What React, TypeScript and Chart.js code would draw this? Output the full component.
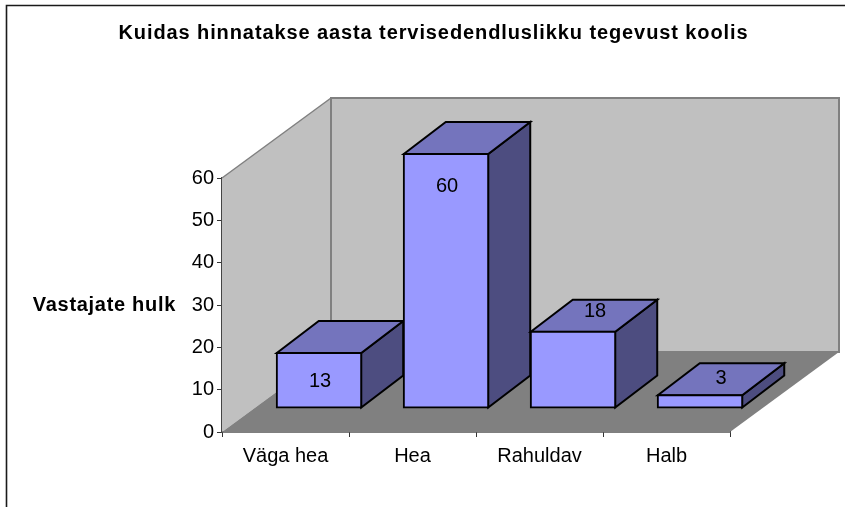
import React, { useEffect, useRef } from "react";
import { Chart, registerables } from "chart.js";

Chart.register(...registerables);

const categories = ["Väga hea", "Hea", "Rahuldav", "Halb"];
const values = [13, 60, 18, 3];
const chartTitle = "Kuidas hinnatakse aasta tervisedendluslikku tegevust koolis";
const yAxisTitle = "Vastajate hulk";

const FONT = "'Liberation Sans', Arial, sans-serif";
// 3D projection of the plot box
const FLOOR_DX = 109;
const FLOOR_DY = -80;
const BAR_SHIFT_X = 33.5;
const BAR_SHIFT_Y = -24;
const BAR_DX = 42;
const BAR_DY = -32;
const LABEL_SHIFT = [
  [1, 28.5],
  [1, 32.5],
  [22, -20.5],
  [21, -16.5],
];

const poly = (ctx: CanvasRenderingContext2D, pts: number[][], fill: string, stroke: string, lw: number) => {
  ctx.beginPath();
  pts.forEach((p, i) => (i ? ctx.lineTo(p[0], p[1]) : ctx.moveTo(p[0], p[1])));
  ctx.closePath();
  ctx.fillStyle = fill;
  ctx.fill();
  if (lw > 0) {
    ctx.strokeStyle = stroke;
    ctx.lineWidth = lw;
    ctx.lineJoin = "miter";
    ctx.stroke();
  }
};

const scene3d = {
  id: "scene3d",
  afterLayout(chart: any) {
    const block = chart.titleBlock;
    if (block && !block.__spaced) {
      block.__spaced = true;
      const draw = block.draw;
      block.draw = function (...args: any[]) {
        const c = this.ctx;
        c.save();
        c.letterSpacing = "0.9px";
        draw.apply(this, args);
        c.restore();
      };
    }
  },
  beforeDraw(chart: any) {
    const ctx = chart.ctx;
    ctx.save();
    ctx.strokeStyle = "#1a1a1a";
    ctx.lineWidth = 1.6;
    ctx.beginPath();
    ctx.moveTo(6.5, 520);
    ctx.lineTo(6.5, 5.5);
    ctx.lineTo(860, 5.5);
    ctx.stroke();
    ctx.restore();
  },
  beforeDatasetsDraw(chart: any) {
    const ctx = chart.ctx;
    const { left, right, top, bottom } = chart.chartArea;
    ctx.save();
    const dx = FLOOR_DX;
    const dy = FLOOR_DY;
    // side wall
    poly(ctx, [[left, bottom], [left, top], [left + dx, top + dy], [left + dx, bottom + dy]], "#c0c0c0", "#808080", 0);
    // back wall
    poly(ctx, [[left + dx, top + dy], [right + dx, top + dy], [right + dx, bottom + dy], [left + dx, bottom + dy]], "#c0c0c0", "#808080", 2);
    // side wall top edge
    ctx.strokeStyle = "#808080";
    ctx.lineWidth = 1.5;
    ctx.beginPath();
    ctx.moveTo(left, top);
    ctx.lineTo(left + dx, top + dy);
    ctx.stroke();
    // floor
    poly(ctx, [[left, bottom], [right, bottom], [right + dx, bottom + dy], [left + dx, bottom + dy]], "#808080", "#808080", 0);

    // bar side and top faces
    const meta = chart.getDatasetMeta(0);
    meta.data.forEach((bar: any) => {
      const p = bar.getProps(["x", "y", "base", "width"], true);
      const x0 = p.x - p.width / 2 + BAR_SHIFT_X;
      const x1 = p.x + p.width / 2 + BAR_SHIFT_X;
      const yT = p.y + BAR_SHIFT_Y;
      const yB = p.base + BAR_SHIFT_Y;
      poly(ctx, [[x1, yT], [x1 + BAR_DX, yT + BAR_DY], [x1 + BAR_DX, yB + BAR_DY], [x1, yB]], "#4d4d80", "#000000", 2);
      poly(ctx, [[x0, yT], [x0 + BAR_DX, yT + BAR_DY], [x1 + BAR_DX, yT + BAR_DY], [x1, yT]], "#7474bd", "#000000", 2);
    });
    ctx.restore();
    // native front faces are shifted forward into the 3D box
    ctx.save();
    ctx.translate(BAR_SHIFT_X, BAR_SHIFT_Y);
  },
  afterDatasetsDraw(chart: any) {
    const ctx = chart.ctx;
    ctx.restore();
    ctx.save();
    ctx.fillStyle = "#000000";
    ctx.font = `20px ${FONT}`;
    ctx.textAlign = "center";
    ctx.textBaseline = "middle";
    const meta = chart.getDatasetMeta(0);
    meta.data.forEach((bar: any, i: number) => {
      const p = bar.getProps(["x", "y"], true);
      ctx.fillText(String(values[i]), p.x + BAR_SHIFT_X + LABEL_SHIFT[i][0], p.y + BAR_SHIFT_Y + LABEL_SHIFT[i][1]);
    });
    ctx.font = `bold 20px ${FONT}`;
    (ctx as any).letterSpacing = "0.7px";
    ctx.textAlign = "right";
    ctx.fillText(yAxisTitle, 176, 305.5);
    ctx.restore();
  },
};

export default function App() {
  const ref = useRef<HTMLCanvasElement | null>(null);
  useEffect(() => {
    document.body.style.margin = "0";
    const chart = new Chart(ref.current!, {
      type: "bar",
      data: {
        labels: categories,
        datasets: [
          {
            label: yAxisTitle,
            data: values,
            backgroundColor: "#9999ff",
            borderColor: "#000000",
            borderWidth: 2,
            borderSkipped: false,
            inflateAmount: 1,
            barPercentage: 0.665,
            categoryPercentage: 1,
            clip: false,
          } as any,
        ],
      },
      options: {
        responsive: false,
        animation: false,
        layout: { padding: { left: 22, right: 0, top: 0, bottom: 0 } },
        plugins: {
          legend: { display: false },
          tooltip: { enabled: false },
          title: {
            display: true,
            text: chartTitle,
            color: "#000000",
            font: { family: FONT, size: 20, weight: "bold", lineHeight: 1.2 },
            padding: { top: 21, bottom: 133 },
          },
        },
        scales: {
          x: {
            grid: { drawOnChartArea: false, color: "#333333", tickLength: 5, lineWidth: 1 },
            border: { color: "#000000", width: 1.5 },
            ticks: { color: "#000000", font: { family: FONT, size: 20 }, padding: 7, maxRotation: 0 },
            afterFit: (s: any) => {
              s.height = 75;
            },
          },
          y: {
            min: 0,
            max: 60,
            grid: { drawOnChartArea: false, color: "#333333", tickLength: 5, lineWidth: 1 },
            border: { color: "#444444", width: 1.5 },
            ticks: { stepSize: 10, color: "#000000", font: { family: FONT, size: 20 }, padding: 3 },
            afterFit: (s: any) => {
              s.width = 200;
            },
          },
          pad: {
            position: "right",
            display: true,
            min: 0,
            max: 1,
            grid: { display: false },
            border: { display: false },
            ticks: { display: false },
            afterFit: (s: any) => {
              s.width = 115;
            },
          },
        },
      },
      plugins: [scene3d],
    } as any);
    return () => chart.destroy();
  }, []);
  return <canvas ref={ref} width={845} height={507} style={{ display: "block", background: "#ffffff" }} />;
}
